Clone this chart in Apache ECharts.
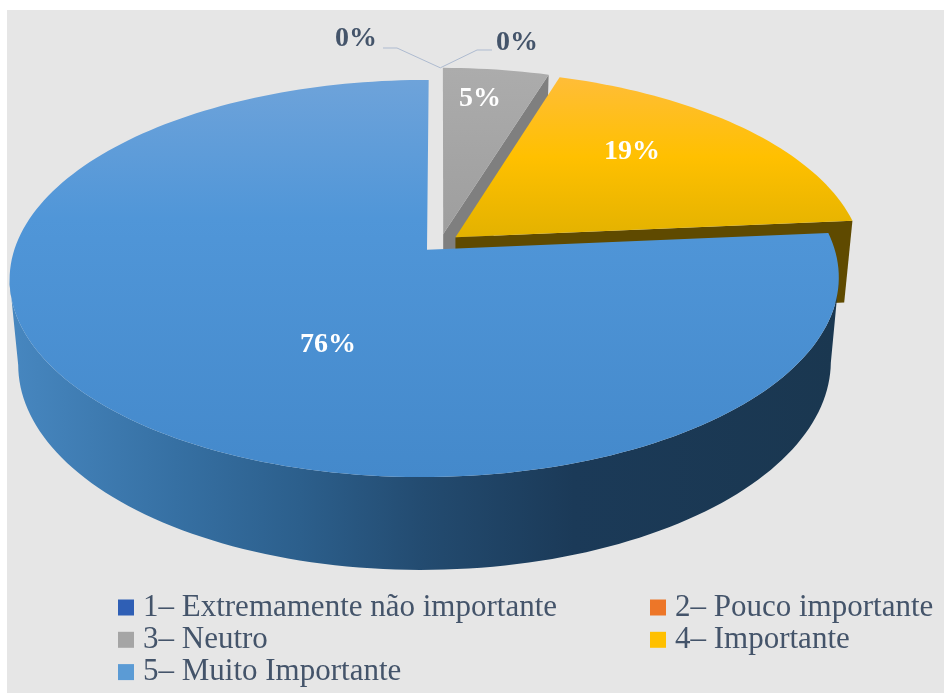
<!DOCTYPE html>
<html><head><meta charset="utf-8">
<style>html,body{margin:0;padding:0;background:#fff}#c{width:944px;height:695px}</style>
<script src="https://cdn.jsdelivr.net/npm/echarts@6/dist/echarts.min.js"></script>
</head><body><div id="c"></div>
<script>
const categories = ['1– Extremamente não importante','2– Pouco importante','3– Neutro','4– Importante','5– Muito Importante'];
const percentValues = [0, 0, 4.8, 18.8, 76.4];
const legendColors = ['#2F5FB5','#ED7628','#A5A5A5','#FFC000','#5B9BD5'];
const labelColors = ['#44546A','#44546A','#ffffff','#ffffff','#ffffff'];
const labelPositions = [[356,39],[517,43],[480,99],[632,152],[328,345]];
const leaderBends = [[[397,48],[383,48]],[[477,50],[492,50]],null,null,null];
const topFills = [
  null, null,
  [['#ACACAC',0],['#9E9E9E',1]],
  [['#FFBD38',0],['#FFC000',0.5],['#E3B200',1]],
  [['#6EA3DA',0],['#5096D8',0.35],['#4489CB',1]]
];
const faceFills = [null,null,'#7F7F7F','#5F4A00',null];
const blueWallStops = [['#4787C0',0],['#3670A3',0.2],['#2C5F8C',0.35],['#234B70',0.5],['#1B3A58',0.68],['#1A3750',1]];

const total = percentValues.reduce((a,b)=>a+b,0);
const cx=440.3, cy=243, Rx=408, Ry=192.4, k=0.1436, m=0.006, depth=83, shrink=0.02, explode=0.048;

function project(deg,r,z,ox,oy){
  const t=deg*Math.PI/180, u=ox+r*Math.sin(t), v=oy+r*Math.cos(t);
  const w=1+k*v+m*u, s=1-shrink*z;
  return [cx+Rx*u*s/w, cy+(-Ry*v*s+depth*z)/w];
}
function grad(stops,vertical){
  return {type:'linear',x:0,y:0,x2:vertical?0:1,y2:vertical?1:0,
    colorStops:stops.map(s=>({color:s[0],offset:s[1]}))};
}
function arc(a0,a1,z,ox,oy){
  const pts=[],n=Math.max(2,Math.ceil((a1-a0)/1.5));
  for(let i=0;i<=n;i++) pts.push(project(a0+(a1-a0)*i/n,1,z,ox,oy));
  return pts;
}
/* the visible wall runs between the rim's rightmost and leftmost points */
function frontPart(pts){
  let hi=0,lo=0;
  pts.forEach((p,i)=>{ if(p[0]>pts[hi][0]) hi=i; if(p[0]<pts[lo][0]) lo=i; });
  return pts.slice(hi,lo+1);
}
function renderSlice(idx,value){
  let before=0; for(let i=0;i<idx;i++) before+=percentValues[i];
  const a0=before/total*360, a1=(before+value)/total*360, mid=(a0+a1)/2*Math.PI/180;
  const ox=explode*Math.sin(mid), oy=explode*Math.cos(mid);
  const kids=[];
  if(value>0){
    const topArc=arc(a0,a1,0,ox,oy);
    if(a0<=180 && a1>=180){
      const upper=frontPart(topArc), lower=frontPart(arc(a0,a1,1,ox,oy)).reverse();
      kids.push({type:'polygon',shape:{points:upper.concat(lower)},style:{fill:grad(blueWallStops,false)}});
    }
    if(faceFills[idx]){
      kids.push({type:'polygon',shape:{points:[project(0,0,0,ox,oy),project(a1,1,0,ox,oy),project(a1,1,1,ox,oy),project(0,0,1,ox,oy)]},style:{fill:faceFills[idx]}});
    }
    kids.push({type:'polygon',shape:{points:[project(0,0,0,ox,oy)].concat(topArc)},style:{fill:grad(topFills[idx],true)}});
  }
  if(leaderBends[idx]){
    kids.push({type:'polyline',shape:{points:[project(0,1,0,0,0.0475)].concat(leaderBends[idx])},style:{fill:null,stroke:'#AEBBD0',lineWidth:1}});
  }
  kids.push({type:'text',z2:50,style:{text:Math.round(value)+'%',x:labelPositions[idx][0],y:labelPositions[idx][1],
    align:'center',verticalAlign:'middle',fill:labelColors[idx],font:'bold 28px "Liberation Serif"'}});
  return {type:'group',children:kids};
}
const series=categories.map((name,i)=>({
  type:'custom',name,coordinateSystem:'none',
  data:[[percentValues[i]]],
  itemStyle:{color:legendColors[i]},
  renderItem:(p,api)=>renderSlice(i,api.value(0)),
  silent:true,animation:false
}));
const legendText={fontFamily:'Liberation Serif',fontSize:31,color:'#44546A',padding:[0,0,0,4]};
const legendBase={orient:'vertical',top:592,height:200,padding:0,itemWidth:16,itemHeight:16,itemGap:1.3,icon:'rect',selectedMode:false,textStyle:legendText};
const chart=echarts.init(document.getElementById('c'),null,{renderer:'canvas'});
chart.setOption({
  backgroundColor:'#ffffff',animation:false,
  graphic:[{type:'rect',silent:true,z:-10,shape:{x:7,y:10,width:937,height:683},style:{fill:'#E6E6E6'}}],
  legend:[
    Object.assign({},legendBase,{left:118,data:[categories[0],categories[2],categories[4]]}),
    Object.assign({},legendBase,{left:650,data:[categories[1],categories[3]]})
  ],
  series
});
</script></body></html>
